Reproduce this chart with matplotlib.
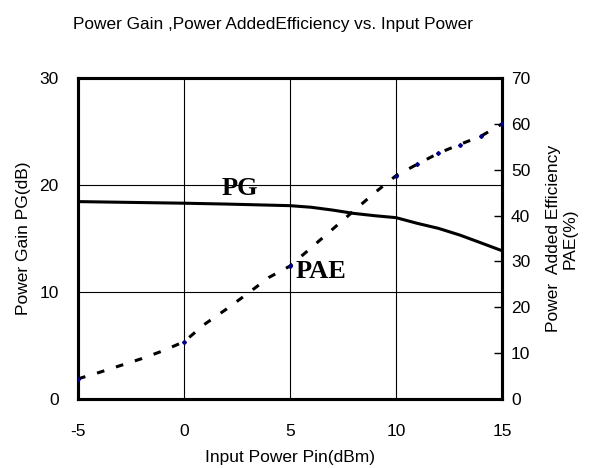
import matplotlib.pyplot as plt

plt.rcParams['font.family'] = ['Liberation Sans', 'DejaVu Sans']
plt.rcParams['axes.unicode_minus'] = False

# input power (dBm)
pin = [-5, -4, -3, -2, -1, 0, 1, 2, 3, 4, 5, 6, 7, 8, 9, 10, 11, 12, 13, 14, 15]
# power gain PG (dB)
pg = [18.45, 18.42, 18.39, 18.36, 18.33, 18.3, 18.26, 18.22, 18.17, 18.12, 18.07,
      17.92, 17.66, 17.35, 17.13, 16.95, 16.42, 15.95, 15.33, 14.6, 13.86]
# power added efficiency PAE (%)
pae = [4.4, 5.8, 7.3, 8.8, 10.5, 12.5, 16.4, 19.6, 23.0, 26.5, 29.0,
       33.0, 37.0, 41.0, 45.0, 48.7, 51.2, 53.6, 55.5, 57.3, 60.0]
pae_marked = [0, 5, 10, 15, 16, 17, 18, 19, 20]

fig = plt.figure(figsize=(5.92, 4.68), dpi=100)
ax = fig.add_axes([0.1318, 0.1474, 0.7162, 0.6859])
ax2 = ax.twinx()

ax.plot(pin, pg, color='black', lw=2.2, zorder=3)
ax2.plot(pin, pae, color='black', lw=2.2, linestyle=(0, (2.5, 4)),
         marker='D', markersize=2, markerfacecolor='navy', markeredgecolor='navy',
         markevery=pae_marked, zorder=3)

ax.set_xlim(-5, 15)
ax.set_ylim(0, 30)
ax2.set_ylim(0, 70)
ax.set_xticks([-5, 0, 5, 10, 15])
ax.set_yticks([0, 10, 20, 30])
ax2.set_yticks(range(0, 71, 10))

ax.grid(True, color='black', lw=0.8)
for s in list(ax.spines.values()) + list(ax2.spines.values()):
    s.set_linewidth(2.2)

ax.tick_params(axis='x', length=0, pad=18, labelsize=12.5)
ax.tick_params(axis='y', length=0, pad=14, labelsize=12.5)
ax2.tick_params(axis='y', direction='in', length=6, width=1, pad=6.5, labelsize=12.5)

ax.set_xlabel('Input Power Pin(dBm)', fontsize=12.5, labelpad=8)
ax.set_ylabel('Power Gain PG(dB)', fontsize=12.5, labelpad=6)
ax2.set_ylabel('Power  Added Efficiency\nPAE(%)', fontsize=12.5, labelpad=11)

ax.text(2.64, 19.7, 'PG', family='Liberation Serif', fontweight='bold', fontsize=19,
        ha='center', va='center')
ax.text(6.46, 11.9, 'PAE', family='Liberation Serif', fontweight='bold', fontsize=19,
        ha='center', va='center')

fig.text(273 / 592, 1 - 25 / 468, 'Power Gain ,Power AddedEfficiency vs. Input Power',
         fontsize=12.4, ha='center', va='center')

fig.savefig('out.png', dpi=100)
